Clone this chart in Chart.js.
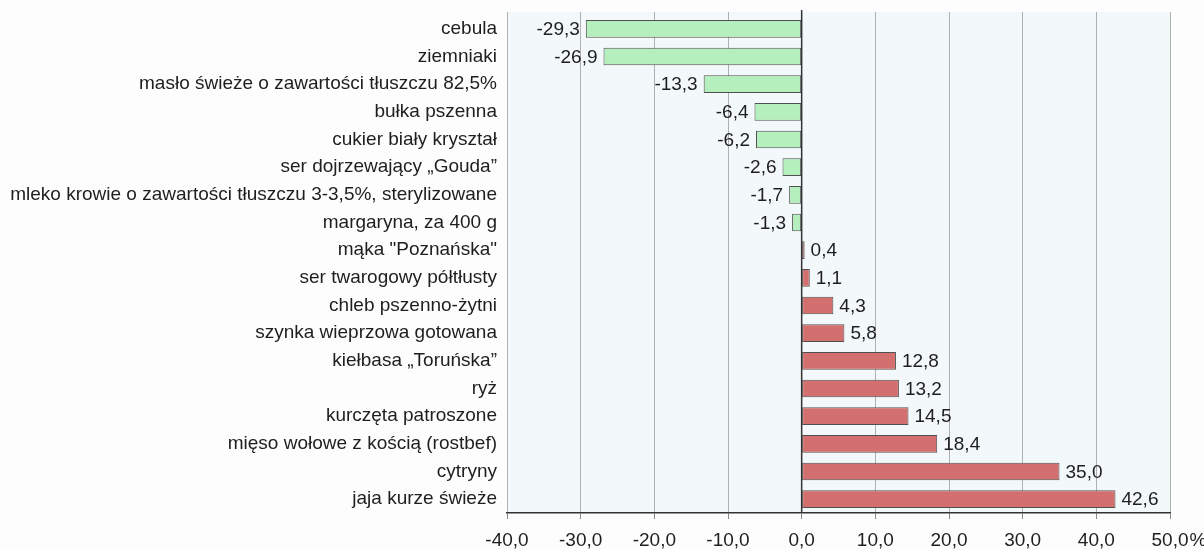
<!DOCTYPE html>
<html>
<head>
<meta charset="utf-8">
<script src="https://cdn.jsdelivr.net/npm/chart.js@4.4.0/dist/chart.umd.min.js"></script>
<style>
  html, body { margin: 0; padding: 0; background: #fdfdfd; }
  #wrap { width: 1204px; height: 549px; position: relative; }
</style>
</head>
<body>
<div id="wrap"><canvas id="priceChart"></canvas></div>
<script>
// Zmiana cen wybranych artykułów żywnościowych (%)
const categories = [
    'cebula',
    'ziemniaki',
    'masło świeże o zawartości tłuszczu 82,5%',
    'bułka pszenna',
    'cukier biały kryształ',
    'ser dojrzewający „Gouda”',
    'mleko krowie o zawartości tłuszczu 3-3,5%, sterylizowane',
    'margaryna, za 400 g',
    'mąka "Poznańska"',
    'ser twarogowy półtłusty',
    'chleb pszenno-żytni',
    'szynka wieprzowa gotowana',
    'kiełbasa „Toruńska”',
    'ryż',
    'kurczęta patroszone',
    'mięso wołowe z kością (rostbef)',
    'cytryny',
    'jaja kurze świeże'
];
const changes = [-29.3, -26.9, -13.3, -6.4, -6.2, -2.6, -1.7, -1.3, 0.4, 1.1, 4.3, 5.8, 12.8, 13.2, 14.5, 18.4, 35.0, 42.6];
const xMin = -40;
const xMax = 50;
const xStep = 10;

const fontFamily = '"Liberation Sans", Arial, sans-serif';
const fontSize = 19;
const textColor = '#1e1e1e';
const topExtra = 3; // plot frame starts a little above the first category band

function fmt(v) {
    return v.toFixed(1).replace('.', ',');
}

function align(px) {
    return Math.round(px + 0.5) - 0.5;
}

// plot background, side borders and grid extension above the first band
const plotBackground = {
    id: 'plotBackground',
    beforeDraw(chart) {
        const { ctx, chartArea: a } = chart;
        const xs = chart.scales.x;
        const top = a.top - topExtra;
        ctx.save();
        ctx.fillStyle = '#f3f8fb';
        ctx.fillRect(a.left, top, a.right - a.left, a.bottom - top);
        ctx.strokeStyle = '#b0b0b0';
        ctx.lineWidth = 1;
        ctx.beginPath();
        xs.ticks.forEach(t => {
            const x = align(xs.getPixelForValue(t.value));
            ctx.moveTo(x, top);
            ctx.lineTo(x, a.top + 1);
        });
        ctx.moveTo(align(a.left), top);
        ctx.lineTo(align(a.left), a.bottom);
        ctx.moveTo(align(a.right), top);
        ctx.lineTo(align(a.right), a.bottom);
        ctx.stroke();
        ctx.restore();
    }
};

// zero line, value labels and the % sign after the last tick
const valueLabels = {
    id: 'valueLabels',
    afterDatasetsDraw(chart) {
        const { ctx, chartArea: a } = chart;
        const xs = chart.scales.x;
        const x0 = xs.getPixelForValue(0);
        ctx.save();
        ctx.strokeStyle = '#333';
        ctx.lineWidth = 1.5;
        ctx.beginPath();
        ctx.moveTo(x0, a.top - topExtra - 2);
        ctx.lineTo(x0, a.bottom);
        ctx.stroke();

        ctx.font = fontSize + 'px ' + fontFamily;
        ctx.fillStyle = textColor;
        ctx.textBaseline = 'middle';
        chart.getDatasetMeta(0).data.forEach((bar, i) => {
            const v = changes[i];
            if (v >= 0) {
                ctx.textAlign = 'left';
                ctx.fillText(fmt(v), bar.x + 6, bar.y + 1);
            } else {
                ctx.textAlign = 'right';
                ctx.fillText(fmt(v), bar.x - 6, bar.y + 1);
            }
        });

        // "%" after the last tick label
        const w = ctx.measureText(fmt(xMax)).width;
        ctx.textAlign = 'left';
        ctx.fillText('%', xs.getPixelForValue(xMax) + w / 2 + 1, a.bottom + 6 + 10 + fontSize * 0.6);
        ctx.restore();
    }
};

const ctx = document.getElementById('priceChart').getContext('2d');
new Chart(ctx, {
    type: 'bar',
    data: {
        labels: categories,
        datasets: [{
            data: changes,
            backgroundColor: changes.map(v => v < 0 ? '#b4efbd' : '#d3706f'),
            borderColor: '#505050',
            borderWidth: 1,
            borderSkipped: false,
            barPercentage: 0.64,
            categoryPercentage: 1
        }]
    },
    options: {
        indexAxis: 'y',
        responsive: true,
        maintainAspectRatio: false,
        animation: false,
        layout: { padding: { top: 12 + topExtra, right: 34, bottom: 0, left: 0 } },
        plugins: {
            legend: { display: false },
            tooltip: { enabled: false }
        },
        scales: {
            x: {
                min: xMin,
                max: xMax,
                ticks: {
                    stepSize: xStep,
                    color: textColor,
                    font: { family: fontFamily, size: fontSize },
                    padding: 10,
                    maxRotation: 0,
                    callback: v => fmt(v)
                },
                grid: {
                    color: '#b0b0b0',
                    lineWidth: 1,
                    drawTicks: true,
                    tickLength: 6,
                    tickColor: '#888'
                },
                border: { display: true, color: '#333', width: 1.5 },
                afterFit(scale) {
                    scale.height = 36;
                    scale.paddingLeft = 0;
                    scale.paddingRight = 0;
                }
            },
            y: {
                ticks: {
                    color: textColor,
                    font: { family: fontFamily, size: fontSize },
                    padding: 10,
                    autoSkip: false
                },
                grid: { display: false, drawTicks: false },
                border: { display: false },
                afterFit(scale) {
                    scale.width = 507;
                    scale.paddingTop = 0;
                    scale.paddingBottom = 0;
                }
            }
        }
    },
    plugins: [plotBackground, valueLabels]
});
</script>
</body>
</html>
